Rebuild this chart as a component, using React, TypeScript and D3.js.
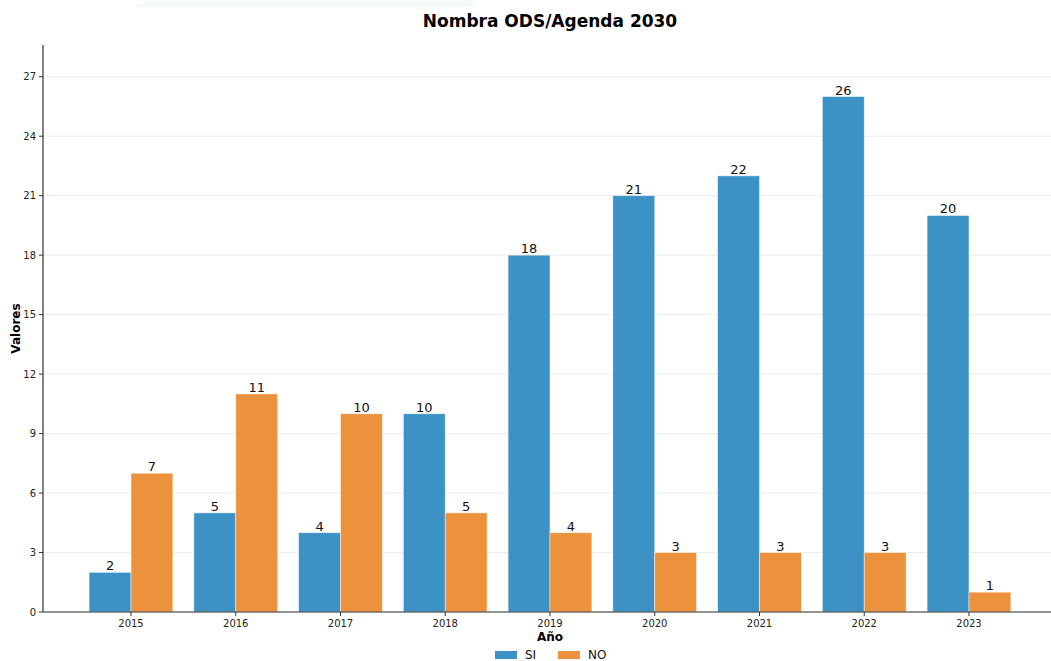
import React, { useEffect, useRef } from 'react'
import * as d3 from 'd3'

const years = ['2015', '2016', '2017', '2018', '2019', '2020', '2021', '2022', '2023']
const siValues = [2, 5, 4, 10, 18, 21, 22, 26, 20]
const noValues = [7, 11, 10, 5, 4, 3, 3, 3, 1]
const yTicks = [0, 3, 6, 9, 12, 15, 18, 21, 24, 27]
const seriesNames = ['SI', 'NO']
const seriesColors = ['#3c91c5', '#ec923d']

export default function App() {
    const ref = useRef<SVGSVGElement>(null)

    useEffect(() => {
        const svg = d3.select(ref.current)
        svg.selectAll('*').remove()

        const W = 1051, H = 661
        const left = 43, bottom = 612, top = 45
        const font = 'DejaVu Sans, sans-serif'

        // faint decoration at the very top
        svg.append('path')
            .attr('d', 'M133,7 L150,0 L470,0 L476,7 Z')
            .attr('fill', '#f4fafa')

        const n = years.length
        const x = d3.scaleLinear().domain([-0.84, n - 1 + 0.84]).range([left, left + 104.75 * (n - 1 + 1.68)])
        const y = d3.scaleLinear().domain([0, 28.6]).range([bottom, top])
        const bw = 0.4

        // grid
        svg.append('g').selectAll('line').data(yTicks).join('line')
            .attr('x1', left).attr('x2', W)
            .attr('y1', d => y(d)).attr('y2', d => y(d))
            .attr('stroke', '#e6e6e6').attr('stroke-width', 0.8)

        const series = [siValues, noValues]
        series.forEach((vals, s) => {
            const g = svg.append('g')
            g.selectAll('rect').data(vals).join('rect')
                .attr('x', (d, i) => x(i + (s === 0 ? -bw : 0)))
                .attr('y', d => y(d))
                .attr('width', x(bw) - x(0))
                .attr('height', d => y(0) - y(d))
                .attr('fill', seriesColors[s])
                .attr('stroke', '#ffffff').attr('stroke-opacity', 0.6).attr('stroke-width', 0.8)
            g.selectAll('text').data(vals).join('text')
                .attr('x', (d, i) => x(i + (s === 0 ? -bw / 2 : bw / 2)))
                .attr('y', d => y(d) - 2)
                .attr('text-anchor', 'middle')
                .style('font', '13px ' + font)
                .attr('fill', '#111')
                .text(d => d)
        })

        // axes
        const xAxis = svg.append('g').attr('transform', `translate(0,${bottom})`)
        xAxis.append('line').attr('x1', left).attr('x2', W).attr('stroke', '#333').attr('stroke-width', 1.2)
        xAxis.selectAll('g').data(years).join('g')
            .attr('transform', (d, i) => `translate(${x(i)},0)`)
            .each(function (d) {
                const t = d3.select(this)
                t.append('line').attr('y2', 4).attr('stroke', '#333')
                t.append('text').attr('y', 15).attr('text-anchor', 'middle')
                    .style('font', '10px ' + font).attr('fill', '#222').text(d)
            })

        const yAxis = svg.append('g').attr('transform', `translate(${left},0)`)
        yAxis.append('line').attr('y1', top).attr('y2', bottom).attr('stroke', '#333').attr('stroke-width', 1.2)
        yAxis.selectAll('g').data(yTicks).join('g')
            .attr('transform', d => `translate(0,${y(d)})`)
            .each(function (d) {
                const t = d3.select(this)
                t.append('line').attr('x2', -4).attr('stroke', '#333')
                t.append('text').attr('x', -7).attr('dy', '0.35em').attr('text-anchor', 'end')
                    .style('font', '10px ' + font).attr('fill', '#222').text(d)
            })

        // labels
        svg.append('text').attr('x', 550).attr('y', 27).attr('text-anchor', 'middle')
            .style('font', 'bold 17px ' + font).text('Nombra ODS/Agenda 2030')
        svg.append('text').attr('transform', `translate(20,${(top + bottom) / 2}) rotate(-90)`)
            .attr('text-anchor', 'middle').style('font', 'bold 12px ' + font).text('Valores')
        svg.append('text').attr('x', 550).attr('y', 641).attr('text-anchor', 'middle')
            .style('font', 'bold 12px ' + font).text('Año')

        // legend
        const lg = svg.append('g').attr('transform', 'translate(495,655)')
        seriesNames.forEach((name, i) => {
            const item = lg.append('g').attr('transform', `translate(${i * 63},0)`)
            item.append('rect').attr('x', 0).attr('y', -4).attr('width', 22).attr('height', 8)
                .attr('fill', seriesColors[i])
            item.append('text').attr('x', 30).attr('dy', '0.35em')
                .style('font', '12px ' + font).attr('fill', '#111').text(name)
        })
    }, [])

    return (
        <svg ref={ref} width={1051} height={661}
            style={{ position: 'absolute', left: 0, top: 0, background: '#fff' }} />
    )
}
